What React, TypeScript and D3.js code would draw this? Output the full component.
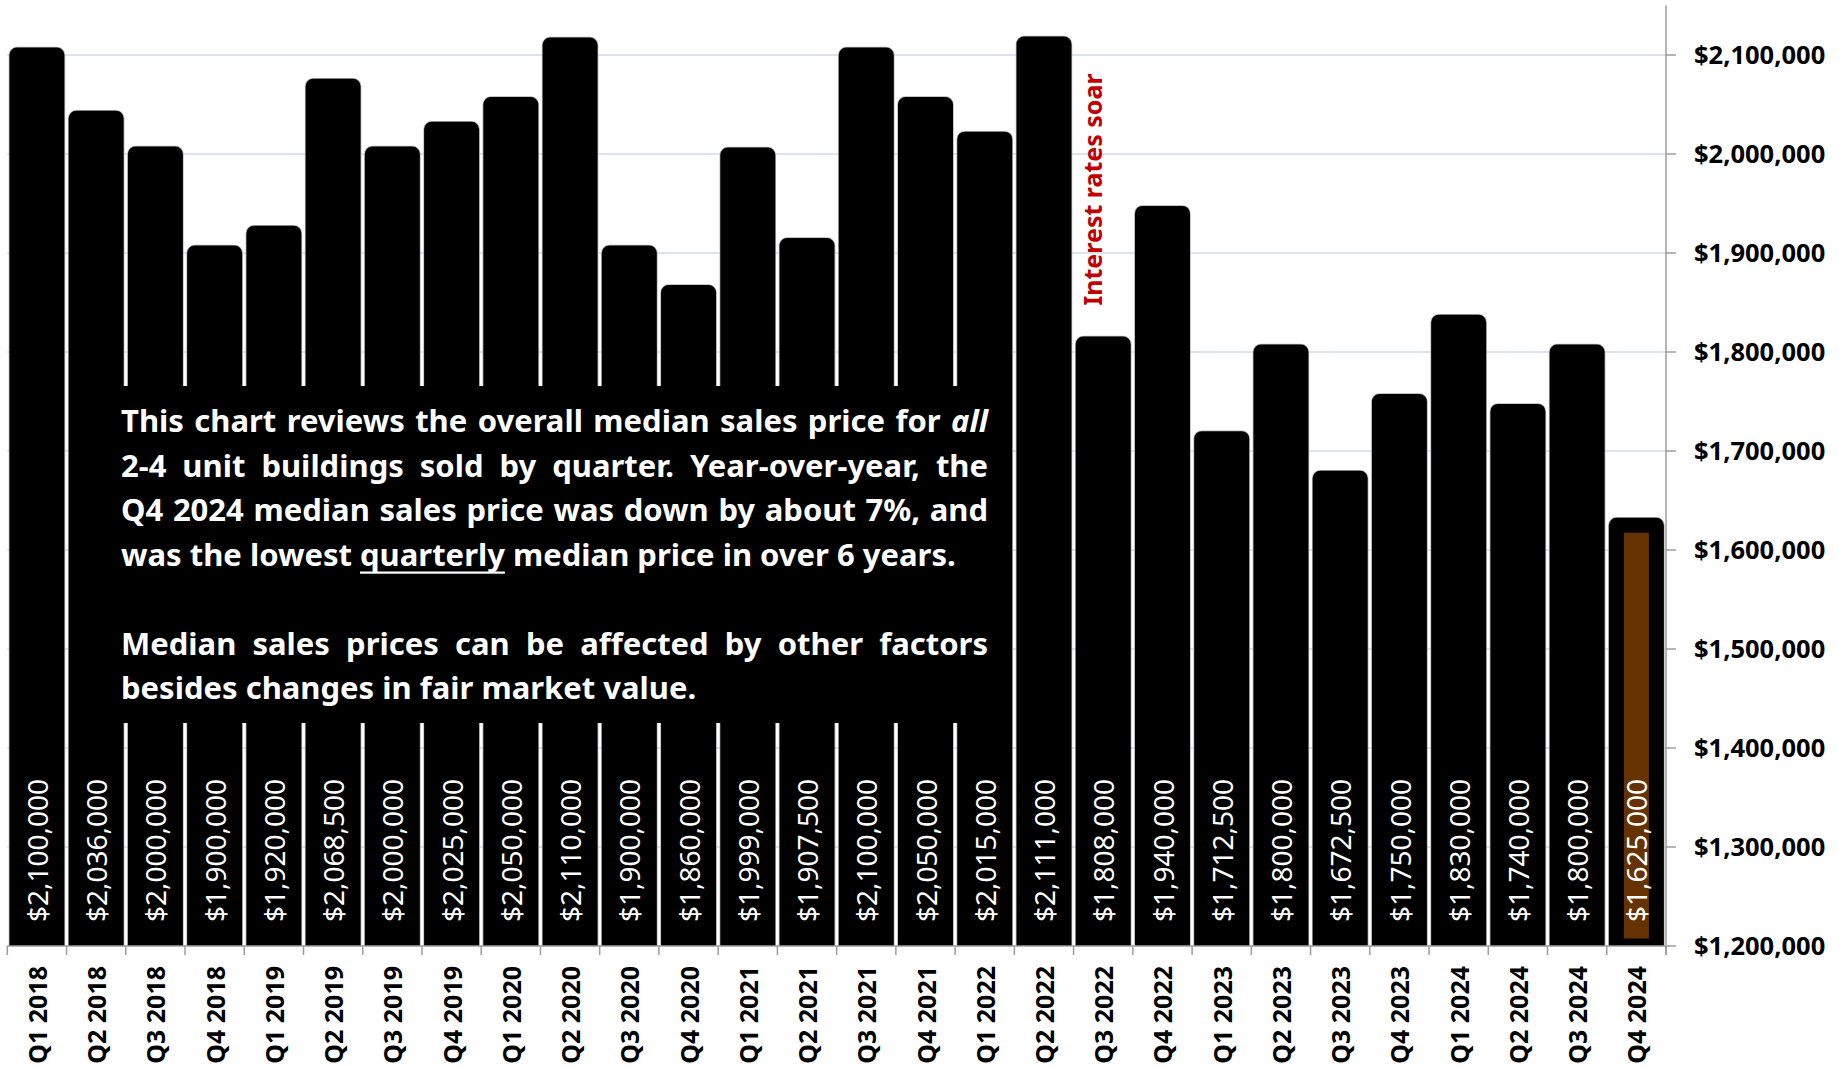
import React from "react";
import * as d3 from "d3";

// Quarterly median sales price, 2-4 unit buildings
const quarters = [
  "Q1 2018", "Q2 2018", "Q3 2018", "Q4 2018",
  "Q1 2019", "Q2 2019", "Q3 2019", "Q4 2019",
  "Q1 2020", "Q2 2020", "Q3 2020", "Q4 2020",
  "Q1 2021", "Q2 2021", "Q3 2021", "Q4 2021",
  "Q1 2022", "Q2 2022", "Q3 2022", "Q4 2022",
  "Q1 2023", "Q2 2023", "Q3 2023", "Q4 2023",
  "Q1 2024", "Q2 2024", "Q3 2024", "Q4 2024",
];

const medianPrice = [
  2100000, 2036000, 2000000, 1900000,
  1920000, 2068500, 2000000, 2025000,
  2050000, 2110000, 1900000, 1860000,
  1999000, 1907500, 2100000, 2050000,
  2015000, 2111000, 1808000, 1940000,
  1712500, 1800000, 1672500, 1750000,
  1830000, 1740000, 1800000, 1625000,
];

const yTicks = [
  1200000, 1300000, 1400000, 1500000, 1600000,
  1700000, 1800000, 1900000, 2000000, 2100000,
];

const highlightQuarter = "Q4 2024";

const annotationQuarter = "Q3 2022";
const annotationValue = 1847000;
const annotationText = "Interest rates soar";

type Seg = { text: string; italic?: boolean; underline?: boolean };
// Note lines; `justify` lines are spread to the full text width
const noteLines: { segs: Seg[]; justify: boolean }[] = [
  { segs: [{ text: "This chart reviews the overall median sales price for" }, { text: "all", italic: true }], justify: true },
  { segs: [{ text: "2-4 unit buildings sold by quarter. Year-over-year, the" }], justify: true },
  { segs: [{ text: "Q4 2024 median sales price was down by about 7%, and" }], justify: true },
  { segs: [{ text: "was the lowest" }, { text: "quarterly", underline: true }, { text: "median price in over 6 years." }], justify: false },
  { segs: [], justify: false },
  { segs: [{ text: "Median sales prices can be affected by other factors" }], justify: true },
  { segs: [{ text: "besides changes in fair market value." }], justify: false },
];

const W = 1839;
const H = 1066;
const FONT = '"Noto Sans", "Open Sans", sans-serif';

const plot = { left: 7.3, right: 1666, top: 5.5, bottom: 946 };

const x = d3
  .scaleBand<string>()
  .domain(quarters)
  .range([plot.left, plot.right])
  .paddingInner(0.325)
  .paddingOuter(0.1625);

const y = d3
  .scaleLinear()
  .domain([1200000, 2150000])
  .range([plot.bottom, plot.top]);

const fmt = (v: number) => "$" + d3.format(",")(v);

let ctx: CanvasRenderingContext2D | null = null;
function measure(s: string, font: string): number {
  if (!ctx) ctx = document.createElement("canvas").getContext("2d");
  if (!ctx) return s.length * 14;
  ctx.font = font;
  return ctx.measureText(s).width;
}

const NOTE_SIZE = 31;
const note = { x0: 112, x1: 1000, y0: 386, y1: 723, textLeft: 121, textRight: 988, firstBaseline: 432, lineGap: 44.5 };

function NoteBox() {
  const fontFor = (s: Seg) => `${s.italic ? "italic " : ""}bold ${NOTE_SIZE}px ${FONT}`;
  const spaceW = measure(" ", `bold ${NOTE_SIZE}px ${FONT}`);
  const items: React.ReactNode[] = [];
  noteLines.forEach((line, li) => {
    const baseline = note.firstBaseline + li * note.lineGap;
    const words: { w: string; seg: Seg; width: number }[] = [];
    line.segs.forEach((seg) => {
      seg.text.split(" ").forEach((w) => {
        words.push({ w, seg, width: measure(w, fontFor(seg)) });
      });
    });
    if (!words.length) return;
    const total = words.reduce((a, b) => a + b.width, 0);
    const gap = line.justify && words.length > 1
      ? (note.textRight - note.textLeft - total) / (words.length - 1)
      : spaceW;
    let cx = note.textLeft;
    words.forEach((wd, wi) => {
      items.push(
        <text
          key={`w${li}-${wi}`}
          x={cx}
          y={baseline}
          fill="#fff"
          fontFamily={FONT}
          fontWeight="bold"
          fontStyle={wd.seg.italic ? "italic" : "normal"}
          fontSize={NOTE_SIZE}
        >
          {wd.w}
        </text>
      );
      if (wd.seg.underline) {
        items.push(
          <rect key={`u${li}-${wi}`} x={cx} y={baseline + 6} width={wd.width} height={2.2} fill="#fff" />
        );
      }
      cx += wd.width + gap;
    });
  });
  return (
    <g>
      <rect x={note.x0} y={note.y0} width={note.x1 - note.x0} height={note.y1 - note.y0} fill="#000" />
      {items}
    </g>
  );
}

export default function App() {
  const bw = x.bandwidth();
  const step = x.step();
  const boundaries = d3.range(quarters.length + 1).map((i) => plot.left + i * step);

  return (
    <svg
      width={W}
      height={H}
      viewBox={`0 0 ${W} ${H}`}
      style={{ position: "absolute", left: 0, top: 0, background: "#fff" }}
    >
      <defs>
        <clipPath id="plotClip">
          <rect x={0} y={0} width={plot.right} height={plot.bottom} />
        </clipPath>
      </defs>

      {/* gridlines */}
      <g>
        {yTicks.filter((t) => t > 1200000).map((t) => (
          <line key={t} x1={plot.left} x2={plot.right} y1={y(t)} y2={y(t)} stroke="#dae3ef" strokeWidth={2} />
        ))}
      </g>

      {/* bars */}
      <g clipPath="url(#plotClip)">
        {quarters.map((q, i) => {
          const top = y(medianPrice[i]);
          return (
            <rect
              key={`s${q}`}
              x={x(q)}
              y={top}
              width={bw}
              height={plot.bottom - top}
              fill="none"
              stroke="#b4b4b4"
              strokeWidth={16.5}
              strokeLinejoin="round"
            />
          );
        })}
        {quarters.map((q, i) => {
          const top = y(medianPrice[i]);
          return (
            <rect
              key={q}
              x={x(q)}
              y={top}
              width={bw}
              height={plot.bottom - top}
              fill={q === highlightQuarter ? "#663300" : "#000"}
              stroke="#000"
              strokeWidth={15}
              strokeLinejoin="round"
            />
          );
        })}
      </g>

      {/* value labels, inside base */}
      <g>
        {quarters.map((q, i) => {
          const cx = (x(q) as number) + bw / 2;
          return (
            <text
              key={q}
              transform={`translate(${cx + 1},922) rotate(-90)`}
              dy="0.36em"
              textAnchor="start"
              fill="#fff"
              fontFamily={FONT}
              fontSize={28}
            >
              {fmt(medianPrice[i])}
            </text>
          );
        })}
      </g>

      {/* x axis */}
      <g>
        <line x1={plot.left} x2={plot.right} y1={plot.bottom} y2={plot.bottom} stroke="#9d9d9d" strokeWidth={1.5} />
        {boundaries.map((bx, i) => (
          <line key={i} x1={bx} x2={bx} y1={plot.bottom} y2={plot.bottom + 9} stroke="#9d9d9d" strokeWidth={1.5} />
        ))}
        {quarters.map((q) => {
          const cx = (x(q) as number) + bw / 2;
          return (
            <text
              key={q}
              transform={`translate(${cx + 1},966) rotate(-90)`}
              dy="0.36em"
              textAnchor="end"
              fill="#000"
              fontFamily={FONT}
              fontWeight="bold"
              fontSize={25}
            >
              {q}
            </text>
          );
        })}
      </g>

      {/* y axis on the right */}
      <g>
        <line x1={plot.right} x2={plot.right} y1={plot.top} y2={plot.bottom + 9} stroke="#9d9d9d" strokeWidth={1.5} />
        {yTicks.map((t) => (
          <g key={t}>
            <line x1={plot.right} x2={plot.right + 10} y1={y(t)} y2={y(t)} stroke="#9d9d9d" strokeWidth={1.5} />
            <text
              x={1694}
              y={y(t)}
              dy="0.36em"
              fill="#000"
              fontFamily={FONT}
              fontWeight="bold"
              fontSize={25.5}
            >
              {fmt(t)}
            </text>
          </g>
        ))}
      </g>

      {/* annotation */}
      <text
        transform={`translate(${(x(annotationQuarter) as number) + bw * 0.25},${y(annotationValue)}) rotate(-90)`}
        dy="0.36em"
        textAnchor="start"
        fill="#c00000"
        fontFamily={FONT}
        fontWeight="bold"
        fontSize={25}
      >
        {annotationText}
      </text>

      <NoteBox />
    </svg>
  );
}
